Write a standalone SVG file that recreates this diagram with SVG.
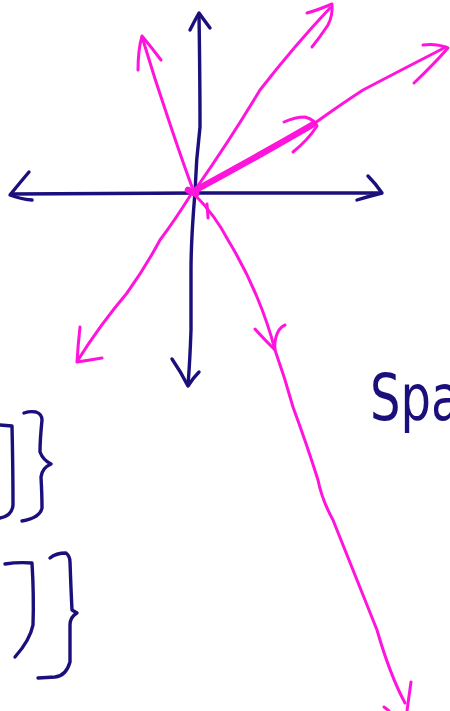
<svg xmlns="http://www.w3.org/2000/svg" width="450" height="711" viewBox="0 0 450 711">
<style>
.n{fill:none;stroke:#1b0f7c;stroke-width:3.4;stroke-linecap:round;stroke-linejoin:round}
.m{fill:none;stroke:#ff14dc;stroke-width:3;stroke-linecap:round;stroke-linejoin:round}
.mb{fill:none;stroke:#ff14dc;stroke-width:6.5;stroke-linecap:round;stroke-linejoin:round}
.t{font-family:"DejaVu Sans","Liberation Sans",sans-serif;fill:#1b0f7c}
</style>
<rect width="450" height="711" fill="#fff"/>
<g id="connectors">
<g id="axes">
<path class="n" d="M11,194 L200,193 L381,193"/>
<path class="n" d="M29,172 Q18,185 10,195 Q20,199 32,200"/>
<path class="n" d="M368,176 Q376,184 382,193 Q370,196 357,200"/>
<path class="n" d="M199,14 Q200,80 200,127 Q196,160 195,192 Q191,240 191,270 Q191,300 191,330 Q190,360 188,385"/>
<path class="n" d="M190,30 Q195,20 199,13 Q204,20 210,28"/>
<path class="n" d="M172,359 Q181,372 188,386 Q193,378 199,372"/>
</g>
<g id="vectors">
<path class="m" d="M192,187 Q182,160 168,118 Q155,80 143,40"/>
<path class="m" d="M138,70 Q138,50 142,36 Q152,48 161,60"/>
<path class="m" d="M195,190 Q230,140 260,90 Q295,45 330,8"/>
<path class="m" d="M307,13 Q318,10 332,4 Q333,15 328,25 Q320,37 312,47"/>
<path class="m" d="M315,123 Q340,105 363,90 Q405,68 446,47"/>
<path class="m" d="M423,45 Q436,43 448,48 Q433,65 414,83"/>
<path class="mb" d="M192,192 Q255,158 312,125"/>
<path class="m" d="M284,122 Q295,117 305,117 Q315,120 317,126 Q308,140 293,152"/>
<path class="m" d="M190,196 Q175,220 160,240 Q145,268 127,293 Q100,325 78,360"/>
<path class="m" d="M80,327 Q78,345 77,362 Q90,360 102,358"/>
<path class="m" d="M195,195 Q215,215 228,240 Q245,268 257,297 Q268,323 275,350 Q285,378 293,407 Q307,445 318,480 Q322,500 333,520 Q356,578 377,630 Q390,675 405,703"/>
<path class="m" d="M255,329 Q265,340 275,350 Q274,338 279,330 Q282,326 285,325"/>
<path class="m" d="M411,682 Q409,696 407,711"/>
<path class="m" d="M384,707 Q387,709 389,711"/>
<path class="mb" d="M188,190 L196,194"/>
<path class="m" d="M207,204 L208,218"/>
</g>
</g>
<g id="brackets">
<path class="n" d="M0,425 L12,426 Q13,470 13,505 Q12,516 0,518"/>
<path class="n" d="M24,413 Q30,411 36,412 Q42,414 42,420 Q40,440 40,452 Q43,460 51,464 Q42,468 41,477 Q42,495 42,508 Q40,518 22,521"/>
<path class="n" d="M5,564 Q18,562 32,563 Q34,595 33,625 Q30,640 15,657"/>
<path class="n" d="M50,558 Q56,553 66,553 Q70,556 70,562 Q71,590 72,610 L77,613 Q70,617 70,625 Q70,645 70,662 Q66,676 55,677 L38,678"/>
</g>
<g id="label">
<text class="t" x="370" y="420" font-size="64" transform="translate(370 0) scale(0.75 1) translate(-370 0)">Spa</text>
</g>
</svg>
